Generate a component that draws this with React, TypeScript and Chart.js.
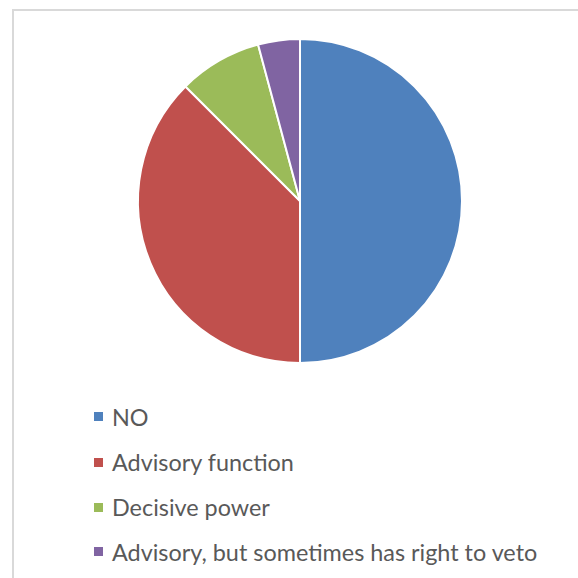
import React, { useEffect, useRef } from "react";
import { Chart, registerables } from "chart.js";
Chart.register(...registerables);

const categories = ["NO", "Advisory function", "Decisive power", "Advisory, but sometimes has right to veto"];
const values = [12, 9, 2, 1];
const colors = ["#4F81BD", "#C0504D", "#9BBB59", "#8064A2"];

const legendCenters = [416.5, 462, 507, 551.5];

export default function App() {
  const ref = useRef<HTMLCanvasElement>(null);
  useEffect(() => {
    document.body.style.margin = "0";
    document.body.style.overflow = "hidden";
    const chart = new Chart(ref.current!, {
      type: "pie",
      data: {
        labels: categories,
        datasets: [{ data: values, backgroundColor: colors, borderColor: "#ffffff", borderWidth: 2 }],
      },
      options: {
        animation: false,
        responsive: false,
        maintainAspectRatio: false,
        layout: { padding: { left: 137, right: 115, top: 38, bottom: 0 } },
        plugins: { legend: { display: false }, tooltip: { enabled: false } },
      },
    });
    return () => chart.destroy();
  }, []);

  return (
    <div style={{ position: "relative", width: 578, height: 578, overflow: "hidden", background: "#fff" }}>
      <div
        style={{
          position: "absolute", left: 12, top: 9, width: 620, height: 620,
          borderLeft: "2px solid #D9D9D9", borderTop: "2px solid #D9D9D9", boxSizing: "border-box",
        }}
      />
      <canvas ref={ref} width={578} height={364} style={{ position: "absolute", left: 0, top: 0, width: 578, height: 364 }} />
      {categories.map((c, i) => (
        <div
          key={c}
          style={{
            position: "absolute", left: 94, top: legendCenters[i] - 15, height: 30,
            display: "flex", alignItems: "center", whiteSpace: "nowrap",
            fontFamily: "Lato, sans-serif", fontSize: 23.4, color: "#595959",
          }}
        >
          <span style={{ display: "inline-block", width: 9, height: 9, background: colors[i], marginRight: 9 }} />
          <span>{c}</span>
        </div>
      ))}
    </div>
  );
}
